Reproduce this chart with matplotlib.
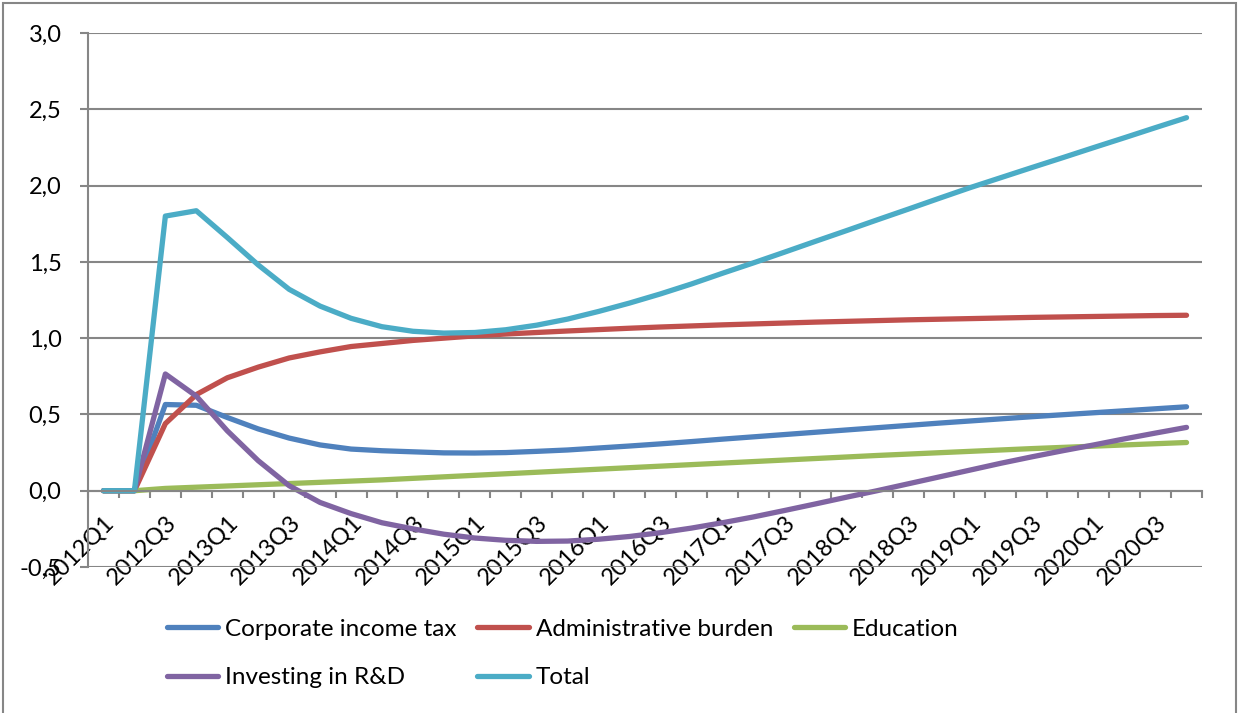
import numpy as np
import matplotlib
matplotlib.use("Agg")
import matplotlib.pyplot as plt
from matplotlib.patches import Rectangle

plt.rcParams['font.family'] = ['Lato', 'DejaVu Sans']

# quarters 2012Q1 .. 2020Q4
quarters = ["%dQ%d" % (y, q) for y in range(2012, 2021) for q in range(1, 5)]

corp_tax = [0, 0, 0.565, 0.56, 0.48, 0.405, 0.345, 0.30, 0.273, 0.262, 0.255, 0.248,
            0.247, 0.25, 0.258, 0.267, 0.28, 0.293, 0.307, 0.322, 0.338, 0.353, 0.368, 0.383,
            0.398, 0.413, 0.428, 0.443, 0.457, 0.471, 0.485, 0.498, 0.511, 0.524, 0.537, 0.55]
admin = [0, 0, 0.44, 0.63, 0.74, 0.81, 0.87, 0.91, 0.945, 0.965, 0.985, 1.0,
         1.015, 1.027, 1.037, 1.047, 1.056, 1.065, 1.073, 1.08, 1.087, 1.093, 1.099, 1.105,
         1.11, 1.115, 1.12, 1.124, 1.128, 1.132, 1.136, 1.139, 1.142, 1.145, 1.148, 1.15]
education = [0, 0, 0.015, 0.023, 0.031, 0.039, 0.047, 0.055, 0.063, 0.071, 0.081, 0.091,
             0.101, 0.111, 0.121, 0.131, 0.141, 0.151, 0.161, 0.171, 0.181, 0.191, 0.201, 0.211,
             0.221, 0.231, 0.240, 0.249, 0.258, 0.267, 0.276, 0.284, 0.292, 0.300, 0.308, 0.316]
rnd = [0, 0, 0.765, 0.62, 0.393, 0.197, 0.033, -0.077, -0.15, -0.21, -0.25, -0.285,
       -0.31, -0.325, -0.332, -0.33, -0.318, -0.30, -0.275, -0.245, -0.21, -0.172, -0.13, -0.087,
       -0.043, 0.0, 0.045, 0.09, 0.135, 0.18, 0.222, 0.262, 0.30, 0.34, 0.378, 0.415]
total = [0, 0, 1.80, 1.835, 1.66, 1.48, 1.32, 1.21, 1.13, 1.075, 1.045, 1.033,
         1.037, 1.055, 1.085, 1.125, 1.175, 1.23, 1.29, 1.355, 1.425, 1.493, 1.563, 1.634,
         1.704, 1.775, 1.845, 1.916, 1.986, 2.052, 2.118, 2.183, 2.249, 2.314, 2.38, 2.445]

series = [("Corporate income tax", corp_tax, "#4F81BD"),
          ("Administrative burden", admin, "#C0504D"),
          ("Education", education, "#9BBB59"),
          ("Investing in R&D", rnd, "#8064A2"),
          ("Total", total, "#4BACC6")]

yticks = [-0.5, 0.0, 0.5, 1.0, 1.5, 2.0, 2.5, 3.0]
ytick_labels = ["-0,5", "0,0", "0,5", "1,0", "1,5", "2,0", "2,5", "3,0"]

W, H = 1238, 713
fig = plt.figure(figsize=(W/100.0, H/100.0), dpi=100)
ax = fig.add_axes([88.0/W, (H-567.0)/H, (1202.0-88.0)/W, (567.0-33.0)/H])

x = np.arange(len(quarters))
lines = {}
for name, vals, col in series:
    ln, = ax.plot(x, vals, color=col, lw=3.8, solid_capstyle='round',
                  solid_joinstyle='round', label=name)
    lines[name] = ln

ax.set_xlim(-0.5, len(quarters)-0.5)
ax.set_ylim(-0.5, 3.0)

# grid
ax.set_yticks(yticks)
ax.set_yticklabels(ytick_labels)
ax.yaxis.grid(True, color="#868686", lw=1.5)
ax.set_axisbelow(True)

for s in ["top", "right"]:
    ax.spines[s].set_visible(False)
ax.spines["left"].set_color("#868686")
ax.spines["left"].set_linewidth(1.5)
ax.spines["bottom"].set_position(("data", 0))
ax.spines["bottom"].set_color("#868686")
ax.spines["bottom"].set_linewidth(1.5)

ax.tick_params(axis="y", length=6, width=1.5, color="#868686", pad=13, labelsize=17)

# category labels every second quarter, tick marks at category borders
ax.set_xticks(x[::2])
ax.set_xticklabels(quarters[::2])
ax.set_xticks(np.arange(len(quarters)+1)-0.5, minor=True)
ax.tick_params(axis="x", which="major", length=0, pad=15, labelsize=17)
ax.tick_params(axis="x", which="minor", length=5, width=1.5, color="#868686", direction="out")
plt.setp(ax.get_xticklabels(), rotation=45, ha="right", va="top", rotation_mode="anchor")

# legend rows in the same order as the chart
order = ["Corporate income tax", "Investing in R&D", "Administrative burden", "Total", "Education"]
fig.legend([lines[n] for n in order], order, ncol=3, loc="center left",
           bbox_to_anchor=(167.0/W, (H-653.5)/H), frameon=False, fontsize=17.5,
           handlelength=2.1, handletextpad=0.3, columnspacing=0.85,
           labelspacing=1.15, borderpad=0, borderaxespad=0)

# chart area border
fig.patches.append(Rectangle((3.0/W, -0.05), (1236.0-3.0)/W, (H-3.0)/H + 0.05,
                             transform=fig.transFigure, fill=False,
                             edgecolor="#868686", lw=1.5))

fig.savefig("out.png", dpi=100)
